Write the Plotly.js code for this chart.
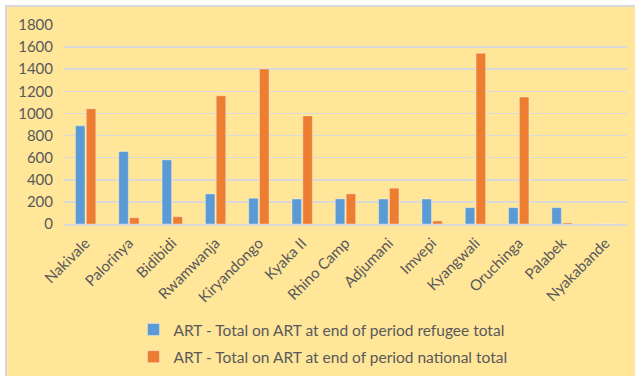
<!DOCTYPE html>
<html>
<head>
<meta charset="utf-8">
<script src="https://cdn.plot.ly/plotly-3.0.1.min.js"></script>
<style>
html, body { margin: 0; padding: 0; background: #ffffff; width: 635px; height: 376px; overflow: hidden; }
#frame { position: absolute; left: 5px; top: 5px; width: 630px; height: 369px; border-top: 2px solid #D9D9D9; border-left: 2px solid #D9D9D9; background: #FFE699; }
#chart { position: absolute; left: 0; top: 0; width: 630px; height: 369px; }
</style>
</head>
<body>
<div id="frame"><div id="chart"></div></div>
<script>
const categories = ["Nakivale", "Palorinya", "Bidibidi", "Rwamwanja", "Kiryandongo", "Kyaka II", "Rhino Camp", "Adjumani", "Imvepi", "Kyangwali", "Oruchinga", "Palabek", "Nyakabande"];
const refugeeTotal = [888, 655, 580, 272, 233, 226, 227, 226, 226, 148, 148, 148, 0];
const nationalTotal = [1042, 57, 66, 1160, 1403, 978, 273, 324, 28, 1545, 1148, 10, 0];
const seriesNames = ["ART - Total on ART at end of period refugee total", "ART - Total on ART at end of period national total"];
const yTicks = [0, 200, 400, 600, 800, 1000, 1200, 1400, 1600, 1800];

const font = { family: "Lato, 'Open Sans', sans-serif", color: "#595959" };

const traces = [
  { type: "bar", name: seriesNames[0], x: categories, y: refugeeTotal, legendgroup: "g1",
    marker: { color: "#5B9BD5", line: { color: "rgba(255,255,255,0.35)", width: 1 } } },
  { type: "bar", name: seriesNames[1], x: categories, y: nationalTotal, legendgroup: "g2",
    marker: { color: "#ED7D31", line: { color: "rgba(255,255,255,0.35)", width: 1 } } }
];

const layout = {
  width: 630, height: 369,
  paper_bgcolor: "rgba(0,0,0,0)",
  plot_bgcolor: "rgba(0,0,0,0)",
  margin: { l: 57, r: 10, t: 18, b: 152 },
  barmode: "group",
  bargap: 0.5,
  bargroupgap: 0.12,
  font: { family: font.family, color: font.color, size: 15 },
  xaxis: {
    type: "category",
    tickangle: -45,
    tickfont: { size: 15, color: "#595959", family: font.family },
    showgrid: false,
    showline: true, linecolor: "#D9D9D9", linewidth: 1.5,
    ticks: "", automargin: false,
    ticklabelstandoff: 3
  },
  yaxis: {
    range: [0, 1800],
    tickvals: yTicks,
    ticktext: yTicks.map(String),
    tickfont: { size: 15, color: "#595959", family: font.family },
    showgrid: true, gridcolor: "#D9D9D9", gridwidth: 1.5,
    zeroline: false, showline: false, ticks: "",
    ticklabelstandoff: 10,
    automargin: false
  },
  showlegend: true,
  legend: {
    orientation: "v",
    traceorder: "grouped",
    xref: "paper",
    x: 0.46, xanchor: "center",
    yref: "container",
    y: 0.171, yanchor: "top",
    bgcolor: "rgba(0,0,0,0)",
    font: { size: 15.5, color: "#595959", family: font.family },
    itemwidth: 30, tracegroupgap: 4
  }
};

Plotly.newPlot("chart", traces, layout, { staticPlot: true, displayModeBar: false });
</script>
</body>
</html>
